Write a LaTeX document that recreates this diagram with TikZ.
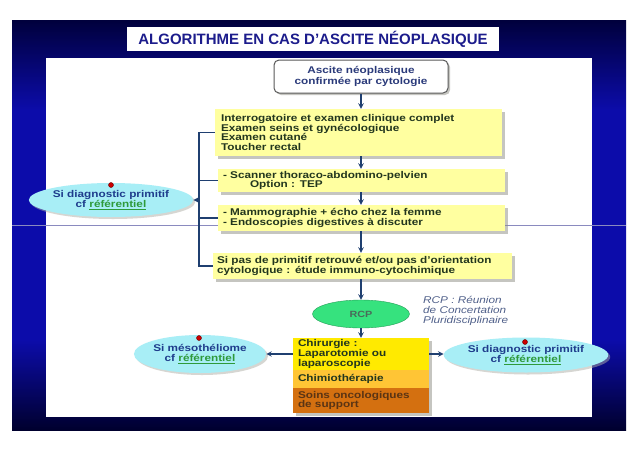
\documentclass[tikz,border=0pt]{standalone}
\usepackage{fontspec}
\setmainfont{Liberation Sans}
\newfontfamily\widefont{Liberation Sans}[FakeStretch=1.2]
\usetikzlibrary{positioning,shapes.geometric,shadows}

\definecolor{frametop}{HTML}{00003C}
\definecolor{framemid}{HTML}{0C0CAA}
\definecolor{framebot}{HTML}{00002E}
\definecolor{titlenavy}{HTML}{1C1C8C}
\definecolor{paleyellow}{HTML}{FFFFA0}
\definecolor{boxtext}{HTML}{22361E}
\definecolor{startnavy}{HTML}{2A3A7A}
\definecolor{linkblue}{HTML}{1F3F70}
\definecolor{skyfill}{HTML}{A8EEF6}
\definecolor{ovaltext}{HTML}{1E3C8C}
\definecolor{refgreen}{HTML}{2E9A3A}
\definecolor{rcpgreen}{HTML}{36E27E}
\definecolor{rcptext}{HTML}{4A6A5A}
\definecolor{notegray}{HTML}{50608A}
\definecolor{chiryellow}{HTML}{FFEA00}
\definecolor{chimioorange}{HTML}{FFC535}
\definecolor{soinsorange}{HTML}{D47010}
\definecolor{soinstext}{HTML}{5A3414}
\definecolor{shadowgray}{HTML}{8C8C82}
\definecolor{sepline}{HTML}{8A8ABF}

\pgfdeclareverticalshading{slideframe}{100bp}{color(0bp)=(framebot); color(25bp)=(framebot);
  color(36bp)=(framemid); color(64bp)=(framemid); color(75bp)=(frametop); color(100bp)=(frametop)}

\begin{document}
\begin{tikzpicture}[x=1pt,y=-1pt,
    pale/.style={fill=paleyellow, drop shadow={shadow xshift=2.5pt,shadow yshift=-2.5pt,fill=shadowgray},
      font=\widefont\bfseries\fontsize{9.8}{9.6}\selectfont, text=boxtext, align=left,
      inner xsep=5pt, inner ysep=0pt},
    oval/.style={ellipse, fill=skyfill, drop shadow={shadow xshift=2pt,shadow yshift=-2pt,fill=shadowgray!70},
      font=\widefont\bfseries\fontsize{9.8}{10}\selectfont, text=ovaltext, align=center, inner sep=0pt},
    stack/.style={drop shadow={shadow xshift=2.5pt,shadow yshift=-2.5pt,fill=shadowgray},
      font=\widefont\bfseries\fontsize{9.8}{9.6}\selectfont, text=boxtext, align=left,
      minimum width=136pt, text width=126pt, inner xsep=5pt, inner ysep=0pt},
    reddot/.style={circle, fill=red!80!black, draw=red!40!black, line width=0.4pt, inner sep=0pt, minimum size=5pt},
    arrow/.style={draw=linkblue, line width=1.4pt, -stealth},
    link/.style={draw=linkblue, line width=1.4pt}]
    \useasboundingbox (0,0) rectangle (638,451);
    \fill[white] (0,0) rectangle (638,451);
    % slide frame
    \shade[shading=slideframe] (12,20) rectangle (626,430);
    \fill[white] (46,58) rectangle (592,417);
    \draw[sepline, line width=0.6pt] (12,225) -- (626,225);
    \node[fill=white, minimum width=372pt, minimum height=24pt, inner sep=0pt,
      font=\bfseries\fontsize{15}{16}\selectfont, text=titlenavy] (title) at (313,39)
      {ALGORITHME EN CAS D’ASCITE NÉOPLASIQUE};

    % main column
    \node[rounded corners=5pt, fill=white, draw=black!65, line width=1pt,
      drop shadow={shadow xshift=2pt,shadow yshift=-2pt,fill=shadowgray},
      minimum width=174pt, minimum height=33pt, align=center, inner sep=0pt,
      font=\widefont\bfseries\fontsize{9.8}{10.5}\selectfont, text=startnavy] (start) at (361,76.5)
      {Ascite néoplasique\\confirmée par cytologie};
    \node[pale, minimum width=287pt, text width=275pt, minimum height=47pt, inner xsep=6pt] (exam) at (358.5,132.5)
      {Interrogatoire et examen clinique complet\\Examen seins et gynécologique\\Examen cutané\\Toucher rectal};
    \node[pale, minimum width=287pt, text width=277pt, minimum height=23pt] (scan) at (361.5,180.5)
      {- Scanner thoraco-abdomino-pelvien\\\hspace*{27pt}Option : TEP};
    \node[pale, minimum width=287pt, text width=277pt, minimum height=26pt] (mammo) at (361.5,218)
      {- Mammographie + écho chez la femme\\- Endoscopies digestives à discuter};
    \node[pale, minimum width=299pt, text width=291pt, minimum height=26pt, inner xsep=4pt] (immuno) at (362.5,266)
      {Si pas de primitif retrouvé et/ou pas d’orientation\\cytologique : étude immuno-cytochimique};
    \node[ellipse, fill=rcpgreen, draw=rcpgreen!70!black, line width=0.4pt, minimum width=97pt, minimum height=28pt,
      inner sep=0pt, font=\widefont\bfseries\fontsize{9}{10}\selectfont, text=rcptext] (rcp) at (361,314) {RCP};
    \node[anchor=west, align=left, inner sep=0pt, text=notegray,
      font=\widefont\itshape\fontsize{9.8}{10}\selectfont] (note) at (423,311)
      {RCP : Réunion\\de Concertation\\Pluridisciplinaire};

    % treatment stack
    \node[stack, fill=chiryellow, minimum height=32pt] (chir) at (361,354)
      {Chirurgie :\\Laparotomie ou\\laparoscopie};
    \node[stack, fill=chimioorange, minimum height=18pt] (chimio) at (361,379) {Chimiothérapie};
    \node[stack, fill=soinsorange, minimum height=25pt, text=soinstext] (soins) at (361,400.5)
      {Soins oncologiques\\de support};

    % referral ovals
    \node[oval, minimum width=129pt, minimum height=34pt] (diagL) at (111,200)
      {Si diagnostic primitif\\cf \textcolor{refgreen}{\underline{référentiel}}};
    \node[reddot] (dotL) at (111,185) {};
    \node[oval, minimum width=115pt, minimum height=38pt] (meso) at (200,354)
      {Si mésothéliome\\cf \textcolor{refgreen}{\underline{référentiel}}};
    \node[reddot] (dotM) at (199,338) {};
    \node[oval, minimum width=128pt, minimum height=35pt] (diagR) at (526,355)
      {Si diagnostic primitif\\cf \textcolor{refgreen}{\underline{référentiel}}};
    \node[reddot] (dotR) at (525,342) {};

    % connectors
    \draw[arrow] (start.south) -- (start.south |- exam.north);
    \draw[arrow] (exam.south -| start.south) -- (start.south |- scan.north);
    \draw[arrow] (scan.south -| start.south) -- (start.south |- mammo.north);
    \draw[arrow] (mammo.south -| start.south) -- (start.south |- immuno.north);
    \draw[arrow] (immuno.south -| rcp.north) -- (rcp.north);
    \draw[arrow] (rcp.south) -- (chir.north);
    \draw[arrow] (chir.west) -- (meso.east);
    \draw[arrow] (chir.east) -- (chir.east -| diagR.west);
    \coordinate (bus) at (199,200);
    \draw[link] (exam.west) -- (exam.west -| bus) |- (immuno.west);
    \draw[link] (scan.west) -- (scan.west -| bus);
    \draw[link] (mammo.west) -- (mammo.west -| bus);
    \draw[arrow] (bus) -- (diagL.east);
\end{tikzpicture}
\end{document}
